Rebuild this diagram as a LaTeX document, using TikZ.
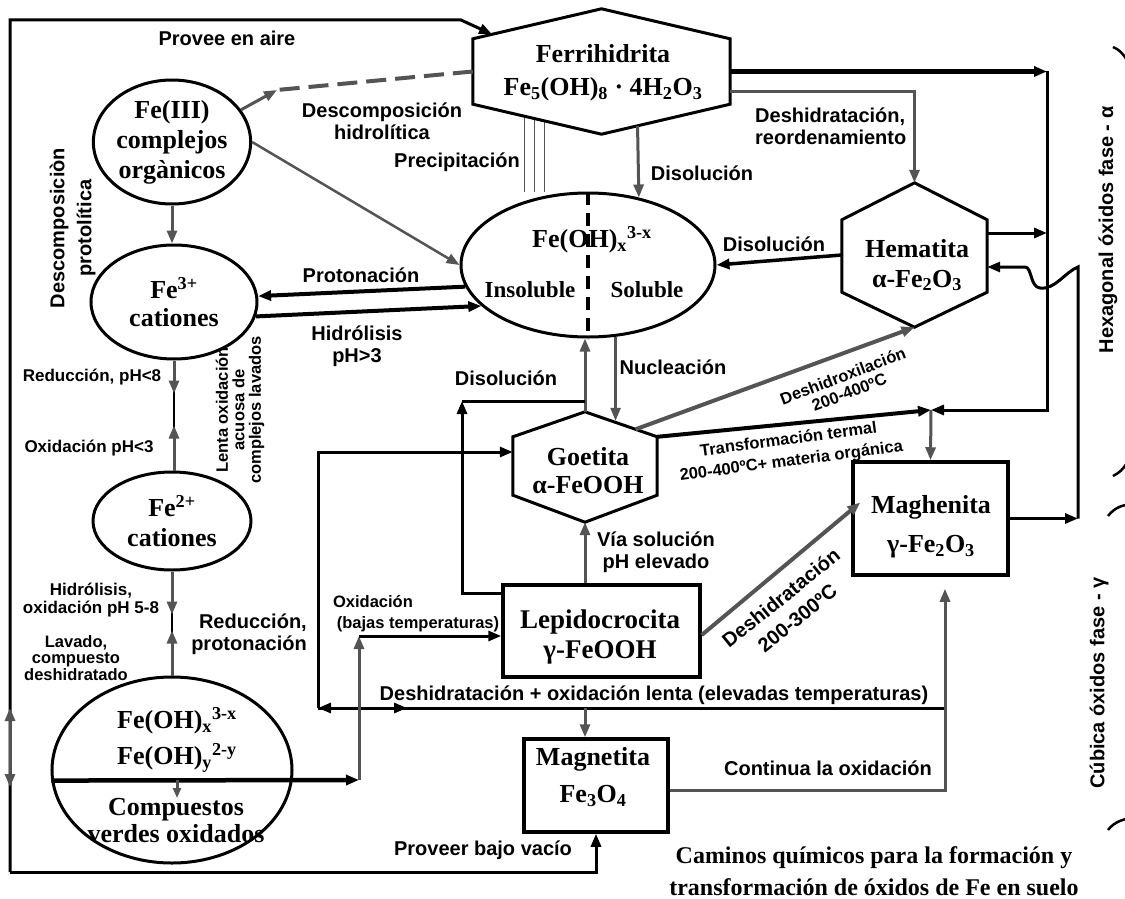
\documentclass[tikz,border=0pt]{standalone}
\usepackage{fontspec}
\setmainfont{Liberation Serif}
\setsansfont{Liberation Sans}
\usepackage{tikz}
\usetikzlibrary{arrows.meta, shapes.geometric, positioning, calc, backgrounds}

\definecolor{arrgray}{gray}{0.33}
\newcommand{\chemfont}{\rmfamily\bfseries\fontsize{26}{30}\selectfont}
\newcommand{\chemsmall}{\rmfamily\bfseries\fontsize{23}{28}\selectfont}
\newcommand{\lblfont}{\sffamily\bfseries\fontsize{20}{22}\selectfont}
\newcommand{\lblmid}{\sffamily\bfseries\fontsize{17}{18}\selectfont}
\newcommand{\lbltiny}{\sffamily\bfseries\fontsize{16.5}{16.5}\selectfont}

\begin{document}
\begin{tikzpicture}[x=1pt, y=-1pt,
  ell/.style={ellipse, draw, line width=3pt, fill=white, inner sep=0pt},
  box/.style={rectangle, draw, line width=3.5pt, fill=white, inner sep=0pt},
  hexa/.style={draw, line width=3pt, fill=white},
  chem/.style={font=\chemfont, align=center, inner sep=0pt},
  chems/.style={font=\chemsmall, align=center, inner sep=0pt},
  lbl/.style={font=\lblfont, align=center, inner sep=0pt},
  lblm/.style={font=\lblmid, align=center, inner sep=0pt},
  lblt/.style={font=\lbltiny, align=center, inner sep=0pt},
  arrow/.style={-{Triangle[length=13pt,width=10pt]}, line width=3pt},
  garrow/.style={arrow, arrgray},
  precip/.style={arrgray, line width=1.2pt},
  dashl/.style={arrgray, line width=4pt, dash pattern=on 20pt off 9pt}
]
\useasboundingbox (0,0) rectangle (1125,899);
\clip (0,0) rectangle (1125,899);

% iron compounds (left column)
\node[ell, minimum width=154pt, minimum height=124pt, font=\chemfont, align=center] (feiii) at (172,142) {Fe(III)\\complejos\\orgànicos};
\node[ell, minimum width=166pt, minimum height=114pt, font=\chemfont, align=center] (fe3) at (174,302) {Fe\textsuperscript{3+}\\[-2pt]cationes};
\node[ell, minimum width=158pt, minimum height=98pt, font=\chemfont, align=center] (fe2) at (172,521) {Fe\textsuperscript{2+}\\cationes};
\node[ell, minimum width=240pt, minimum height=186pt] (green) at (172,770) {};
\node[chem] (greenup) at (177,740) {Fe(OH)\textsubscript{x}\textsuperscript{3-x}\\[6pt]Fe(OH)\textsubscript{y}\textsuperscript{2-y}};
\node[chem] (greenlo) at (176,821) {Compuestos\\[-3pt]verdes oxidados};

% hydroxide
\node[ell, minimum width=254pt, minimum height=144pt] (fhx) at (588,265) {};
\draw[line width=4pt, dash pattern=on 13pt off 8pt] (fhx.north) -- (fhx.south);
\node[chem] (fhxtop) at (592,240) {Fe(OH)\textsubscript{x}\textsuperscript{3-x}};
\node[chems] (insol) at (530,290) {Insoluble};
\node[chems] (sol) at (647,290) {Soluble};

% ferrihidrita
\node[minimum width=257pt, minimum height=125pt, inner sep=0pt] (ferri) at (601.5,71.5) {};
\coordinate (ferriNE) at ([yshift=-30pt]ferri.north east);
\coordinate (ferriSE) at ([yshift=30pt]ferri.south east);
\coordinate (ferriSW) at ([yshift=30pt]ferri.south west);
\coordinate (ferriNW) at ([yshift=-30pt]ferri.north west);
\draw[hexa] (ferri.north) -- (ferriNE) -- (ferriSE) -- (ferri.south) -- (ferriSW) -- (ferriNW) -- cycle;
\node[chem] (ferritxt) at (603,73) {Ferrihidrita\\[3pt]Fe\textsubscript{5}(OH)\textsubscript{8} · 4H\textsubscript{2}O\textsubscript{3}};

% hematita
\node[minimum width=145pt, minimum height=144pt, inner sep=0pt] (hema) at (914.5,255) {};
\draw[hexa] (hema.north) -- ([yshift=-37pt]hema.north east) -- ([yshift=35pt]hema.south east) -- (hema.south) -- ([yshift=35pt]hema.south west) -- ([yshift=-37pt]hema.north west) -- cycle;
\node[chem] (hematxt) at (917,265) {Hematita\\α-Fe\textsubscript{2}O\textsubscript{3}};

% goetita
\node[minimum width=144pt, minimum height=110pt, inner sep=0pt] (goet) at (585,467) {};
\coordinate (goetNE) at ([yshift=-25pt]goet.north east);
\draw[hexa] (goet.north) -- (goetNE) -- ([yshift=27pt]goet.south east) -- (goet.south) -- ([yshift=27pt]goet.south west) -- ([yshift=-25pt]goet.north west) -- cycle;
\node[chem] (goettxt) at (588,471) {Goetita\\[-2pt]α-FeOOH};

% boxes
\node[box, minimum width=197pt, minimum height=92pt] (lepido) at (601.5,631) {};
\node[chem, font=\rmfamily\bfseries\fontsize{27}{30}\selectfont] (lepitxt) at (600,637) {Lepidocrocita\\γ-FeOOH};
\node[box, minimum width=155pt, minimum height=113pt] (magh) at (930.5,518.5) {};
\node[chem] (maghtxt) at (931,527) {Maghenita\\[9pt]γ-Fe\textsubscript{2}O\textsubscript{3}};
\node[box, minimum width=144pt, minimum height=93pt] (magn) at (596,785.5) {};
\node[chem] (magntxt) at (593,777) {Magnetita\\[7pt]Fe\textsubscript{3}O\textsubscript{4}};

% junctions
\coordinate (cTL) at (10,20);
\coordinate (cBL) at (10,872);
\coordinate (hyd) at (277,90);
\coordinate (rA) at (1047,410);
\coordinate (rB) at (1078,267);
\coordinate (tcross) at (931,410);
\coordinate (lA) at (318,708);
\coordinate (oxbend) at (359,780);
\coordinate (dis) at (462,401);
\coordinate (rC) at ([xshift=14.5pt]magh.south);
\coordinate (ferriIn) at ($(ferriNW)!0.15!(ferri.north)$);
\coordinate (lepiIn) at ([yshift=-5pt]lepido.west);
\coordinate (hemaIn) at ([yshift=-12pt]hema.east);

% outer frame
\draw[arrow] (cBL) -- (cTL) -- ++(451,0) -- (ferriIn);
\draw[arrow] (cBL) -| (magn.south);
\draw[garrow] ([yshift=110pt]cBL) -- ([yshift=164pt]cBL);
\draw[garrow] ([yshift=130pt]cBL) -- ([yshift=85pt]cBL);

% organic complexes
\draw[dashl] (ferri.west) -- (hyd);
\draw[garrow] (feiii.25) -- (hyd);
\draw[garrow, line width=2.5pt] (feiii.east) -- (fhx.west);
\draw[garrow] (feiii.south) -- (feiii.south |- fe3.north);

% cations
\draw[arrow, line width=4pt] (fhx.190) -- (fe3.4);
\draw[arrow, line width=4pt] (fe3.-10) -- (fhx.201);
\draw[line width=2pt] (fe3.south) -- (fe3.south |- fe2.north);
\draw[garrow] (fe3.south) -- ++(0,33);
\draw[garrow] (fe3.south |- fe2.north) -- ++(0,-45);
\draw[line width=2pt] (fe2.south) -- (green.north);
\draw[garrow] (fe2.south) -- ++(0,43);
\draw[garrow] (green.north) -- ++(0,-45);

% ferrihidrita outputs
\begin{pgfonlayer}{background}
\fill[white] (0,0) rectangle (1125,899);
\foreach \f in {0.60,0.52,0.44} {
  \coordinate (pc) at ($(ferri.south)!\f!(ferriSW)$);
  \draw[precip] (pc) -- (pc |- fhx.north);
}
\end{pgfonlayer}
\draw[garrow] ($(ferri.south)!0.28!(ferriSE)$) -- (fhx.53);
\draw[arrow, line width=5pt] (ferri.east) -- (ferri.east -| rA);
\draw[arrow] (ferri.east -| rA) -- (rA) -- (tcross);
\draw[garrow] ([yshift=-20pt]ferri.east) -| (hema.north);

% hematita links
\draw[arrow] ([yshift=22pt]hema.east) -- ([yshift=22pt]hema.east -| rA);
\draw[arrow, line width=3.5pt] (hema.west) -- (fhx.east);
\draw[arrow] (magh.east) -- (magh.east -| rB);
\draw[arrow] (magh.east -| rB) -- (rB) .. controls (1065,272) and (1055,290) .. (1040,288) .. controls (1030,287) and (1032,267) .. (1025,267) -- (hemaIn);

% goetita links
\draw[garrow] (goet.north) -- (goet.north |- fhx.south);
\draw[arrow] ([yshift=-10pt]lepido.north west) -| (dis);
\draw[line width=3pt] (dis) -- (dis -| goet.north);
\draw[garrow, line width=2.5pt] (fhx.-69) -- ++(0,84);
\draw[garrow, line width=4pt] ($(goet.north)!0.7!(goetNE)$) -- (hema.south);
\draw[arrow, line width=4pt] (goetNE) -- (tcross);
\draw[garrow] (tcross) -- (magh.north);
\draw[arrow] (lA) |- ([yshift=15pt]goet.west);

% lepidocrocita and magnetita links
\draw[arrow] (rC |- lA) -- (lA);
\draw[arrow] (lA) -- ++(89,0);
\draw[garrow] ([xshift=-11pt]magn.north |- lA) -- ([xshift=-11pt]magn.north);
\draw[garrow] ([yshift=-4.5pt]magn.east) -| ([yshift=-12pt]rC);
\draw[garrow] ([xshift=-16.5pt]lepido.north) -- (goet.south);
\draw[garrow, line width=4pt] ([yshift=-4pt]lepido.east) -- ([xshift=9pt,yshift=16pt]magh.west);
\draw[arrow, line width=4.5pt] (green.185) -- (oxbend);
\draw[garrow] (oxbend) -- (oxbend |- lepiIn);
\draw[arrow] (oxbend |- lepiIn) -- (lepiIn);
\draw[garrow, -{Triangle[length=10pt,width=8pt]}] ([xshift=5pt,yshift=-10pt]green.center) -- ++(0,18);

% brackets
\draw[line width=2.5pt] (1113,47) .. controls (1125,52) and (1132,65) .. (1134,90) -- (1134,430) .. controls (1132,460) and (1125,470) .. (1113,476);
\draw[line width=2.5pt] (1108,516) .. controls (1114,508) and (1124,503) .. (1136,505) -- (1136,818) .. controls (1124,818) and (1114,822) .. (1108,830);

% labels
\node[lbl] (provee) at (227,38) {Provee en aire};
\node[lbl] (deshid) at (382,121) {Descomposición\\hidrolítica};
\node[lbl] (precl) at (457,162) {Precipitación};
\node[lbl] (disol1) at (702,173) {Disolución};
\node[lbl, align=left, anchor=west] (reord) at (755,126) {Deshidratación,\\reordenamiento};
\node[lbl] (disol2) at (774,244) {Disolución};
\node[lbl] (proton) at (361,275) {Protonación};
\node[lbl] (hidrol) at (357,346) {Hidrólisis\\pH>3};
\node[lbl, rotate=90] (protol1) at (59,228) {Descomposiciòn};
\node[lbl, rotate=90] (protol2) at (86,228) {protolítica};
\node[lblm] (reduc) at (92,377) {Reducción, pH<8};
\node[lblm] (oxid) at (89,448) {Oxidación pH<3};
\node[lblt, rotate=90] (lenta) at (240,410) {Lenta oxidación\\acuosa de\\complejos lavados};
\node[lblm] (hidrol2) at (91,600) {Hidrólisis,\\oxidación pH 5-8};
\node[lblt] (lavado) at (76,658) {Lavado,\\compuesto\\deshidratado};
\node[lbl, align=right, anchor=east] (reduc2) at (307,634) {Reducción,\\protonación};
\node[lbl] (disol3) at (506,378) {Disolución};
\node[lbl] (nucl) at (673,367) {Nucleación};
\node[lblt, rotate=21] (deshox) at (846,384) {Deshidroxilación\\[1pt]200-400ºC};
\node[lblt, rotate=7.5] (termal) at (790,451) {Transformación termal\\[5pt]200-400ºC+ materia orgánica};
\node[lbl] (viasol) at (656,552) {Vía solución\\pH elevado};
\node[lblt] (oxb1) at (373,602) {Oxidación};
\node[lblt] (oxb2) at (418,624) {(bajas temperaturas)};
\node[lbl] (deshlenta) at (654,695) {Deshidratación + oxidación lenta (elevadas temperaturas)};
\node[lbl, rotate=39] (desh300) at (789,608) {Deshidratación\\[4pt]200-300ºC};
\node[lbl] (contin) at (828,768) {Continua la oxidación};
\node[lbl] (vacio) at (483,850) {Proveer bajo vacío};
\node[chem, font=\rmfamily\bfseries\fontsize{24}{32}\selectfont] (caption) at (874,871) {Caminos químicos para la formación y\\transformación de óxidos de Fe en suelo};
\node[lbl, rotate=90] (hexag) at (1108,230) {Hexagonal óxidos fase - α};
\node[lbl, rotate=90] (cubic) at (1099,683) {Cúbica óxidos fase - γ};
\end{tikzpicture}
\end{document}
